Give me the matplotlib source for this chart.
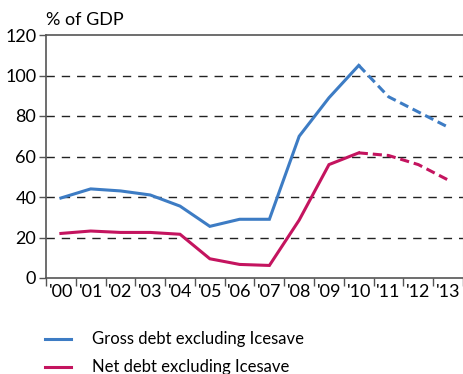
import matplotlib
matplotlib.use("Agg")
import matplotlib.pyplot as plt

# === Datos ===
years = ["'00", "'01", "'02", "'03", "'04", "'05", "'06", "'07",
         "'08", "'09", "'10", "'11", "'12", "'13"]
gross = [39.5, 44, 43, 41, 35.5, 25.5, 29, 29, 70, 89, 105, 89.5, 82, 74.5]
net = [22, 23.2, 22.5, 22.5, 21.6, 9.5, 6.7, 6.2, 28.6, 56, 61.8, 60.5, 56, 48.4]
n_actual = 11  # '00..'10 sólidas, luego proyección

blue = "#3d7cc4"
red = "#c4145f"

plt.rcParams["font.family"] = ["Lato", "DejaVu Sans"]
fs = 13

fig = plt.figure(figsize=(4.64, 3.74), dpi=100)
ax = fig.add_axes([46 / 464, 1 - 278 / 374, 417 / 464, 243 / 374])

x = list(range(len(years)))
for vals, col in [(gross, blue), (net, red)]:
    ax.plot(x[:n_actual], vals[:n_actual], color=col, lw=2.2, solid_joinstyle="miter")
    ax.plot(x[n_actual - 1:], vals[n_actual - 1:], color=col, lw=2.2,
            ls=(0, (3, 1.6)))

ax.set_xlim(-0.5, len(years) - 0.5)
ax.set_ylim(0, 120)
ax.set_yticks(range(0, 121, 20))
for yv in range(20, 120, 20):
    ax.axhline(yv, color="#222222", lw=1, ls=(0, (6, 5)), zorder=0)

ax.set_xticks([i - 0.5 for i in range(len(years) + 1)])
ax.set_xticklabels([])
ax.set_xticks(x, minor=True)
ax.set_xticklabels(years, minor=True, fontsize=fs)
ax.tick_params(axis="x", which="minor", length=0, pad=4)
ax.tick_params(axis="x", which="major", length=6, width=1, color="#555555")
ax.tick_params(axis="y", length=5, width=1, color="#555555", labelsize=fs, pad=2)

for s in ["left", "bottom", "top"]:
    ax.spines[s].set_color("#555555")
    ax.spines[s].set_linewidth(1.2)
ax.spines["right"].set_color("#cccccc")

fig.text(46 / 464, 1 - 20 / 374, "% of GDP", fontsize=fs, va="center", ha="left")

# leyenda
for yy, col, lab in [(339, blue, "Gross debt excluding Icesave"),
                     (367, red, "Net debt excluding Icesave")]:
    fig.add_artist(plt.Line2D([45 / 464, 71 / 464], [1 - yy / 374] * 2,
                              color=col, lw=2.2, transform=fig.transFigure))
    fig.text(92 / 464, 1 - yy / 374, lab, fontsize=12, va="center", ha="left")

fig.savefig("out.png", dpi=100)
